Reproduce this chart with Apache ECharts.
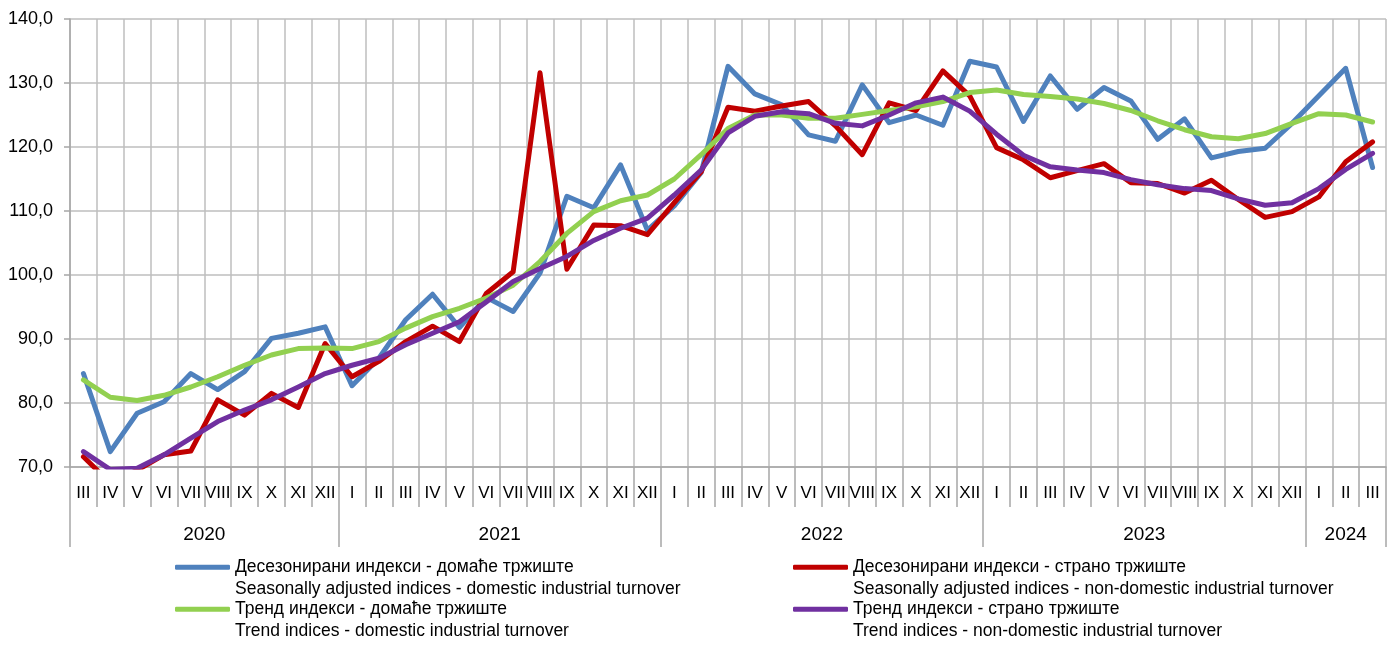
<!DOCTYPE html>
<html>
<head>
<meta charset="utf-8">
<script src="https://cdn.jsdelivr.net/npm/echarts@6/dist/echarts.min.js"></script>
<style>
html,body{margin:0;padding:0;background:#fff;}
#chart{width:1394px;height:646px;}
</style>
</head>
<body>
<div id="chart"></div>
<script>
// ---- data ----
var months = ['III','IV','V','VI','VII','VIII','IX','X','XI','XII',
  'I','II','III','IV','V','VI','VII','VIII','IX','X','XI','XII',
  'I','II','III','IV','V','VI','VII','VIII','IX','X','XI','XII',
  'I','II','III','IV','V','VI','VII','VIII','IX','X','XI','XII',
  'I','II','III'];
var years = ['2020','2021','2022','2023','2024'];
var yearMonthCounts = [10, 12, 12, 12, 3];

var seriesNames = [
  'Десезонирани индекси - домаће тржиште\nSeasonally adjusted indices - domestic industrial turnover',
  'Десезонирани индекси - страно тржиште\nSeasonally adjusted indices - non-domestic industrial turnover',
  'Тренд индекси - домаће тржиште\nTrend indices - domestic industrial turnover',
  'Тренд индекси - страно тржиште\nTrend indices - non-domestic industrial turnover'
];

var saDomestic = [84.6,72.4,78.4,80.2,84.6,82.1,84.9,90.1,90.9,91.9,
  82.7,87.0,93.0,97.0,91.8,96.5,94.3,100.3,112.3,110.5,117.2,107.0,
  110.8,116.0,132.6,128.3,126.6,121.9,120.9,129.7,123.8,125.0,123.4,133.4,
  132.5,124.0,131.1,125.9,129.3,127.2,121.2,124.4,118.3,119.3,119.8,123.7,
  128.0,132.3,116.8];
var saForeign = [71.6,67.5,69.5,71.9,72.5,80.5,78.1,81.5,79.3,89.3,
  84.1,86.5,89.6,92.0,89.6,97.1,100.5,131.6,100.9,107.8,107.7,106.3,
  111.3,116.1,126.2,125.6,126.4,127.1,123.3,118.8,126.9,125.7,131.9,128.0,
  119.9,118.0,115.2,116.3,117.4,114.4,114.3,112.8,114.8,111.8,109.0,109.9,
  112.2,117.7,120.8];
var trendDomestic = [83.6,80.9,80.4,81.2,82.5,84.1,85.9,87.5,88.5,88.6,
  88.5,89.6,91.7,93.5,94.8,96.4,98.4,102.1,106.5,109.9,111.6,112.5,
  115.0,118.8,122.9,125.0,125.0,124.5,124.5,125.1,125.7,126.3,127.1,128.5,
  128.9,128.2,127.9,127.5,126.8,125.7,124.1,122.7,121.6,121.3,122.1,123.7,
  125.2,125.0,123.9];
var trendForeign = [72.4,69.6,69.8,71.9,74.5,77.1,78.9,80.5,82.5,84.6,
  85.9,87.0,89.1,90.9,92.7,95.8,99.0,101.0,102.9,105.4,107.3,108.9,
  112.5,116.4,122.2,124.8,125.5,125.2,123.7,123.3,125.0,126.9,127.8,125.6,
  122.0,118.7,116.9,116.4,116.0,114.9,114.1,113.5,113.2,111.9,110.9,111.3,
  113.5,116.5,119.0];

var colors = ['#4F81BD', '#C00000', '#92D050', '#7030A0'];

// ---- build year axis (half-month resolution) ----
var nHalf = months.length * 2 + 1;
var yearAxisData = [];
for (var j = 0; j < nHalf; j++) yearAxisData.push('');
var boundaryIdx = {0: true};
var labelIdx = {};
var start = 0;
for (var y = 0; y < years.length; y++) {
  var c = start * 2 + yearMonthCounts[y];
  yearAxisData[c] = years[y];
  labelIdx[c] = true;
  start += yearMonthCounts[y];
  boundaryIdx[start * 2] = true;
}

var font = "'Liberation Sans', Arial, sans-serif";
var gridColor = '#BEBEBE';
var axisColor = '#A6A6A6';

var chart = echarts.init(document.getElementById('chart'), null, {renderer: 'canvas'});

function mkSeries(i, data) {
  return {
    name: seriesNames[i],
    type: 'line',
    data: data,
    symbol: 'none',
    smooth: false,
    clip: true,
    xAxisIndex: 0,
    lineStyle: {color: colors[i], width: 5, cap: 'round', join: 'round'},
    itemStyle: {color: colors[i]},
    z: 3 + i
  };
}

var legendText = {
  fontFamily: font,
  fontSize: 17.5,
  lineHeight: 21.5,
  color: '#000'
};
// blank first line so that the first real line is centred on the legend icon
function legendFmt(name) { return ' \n' + name; }

var option = {
  animation: false,
  backgroundColor: '#fff',
  grid: {left: 70, right: 8, top: 19, bottom: 179, containLabel: false},
  legend: [
    {
      data: [seriesNames[0], seriesNames[2]],
      orient: 'vertical',
      left: 175, top: 535,
      padding: 0,
      itemGap: -22.5,
      itemWidth: 55, itemHeight: 5,
      icon: 'roundRect',
      formatter: legendFmt,
      textStyle: legendText
    },
    {
      data: [seriesNames[1], seriesNames[3]],
      orient: 'vertical',
      left: 793, top: 535,
      padding: 0,
      itemGap: -22.5,
      itemWidth: 55, itemHeight: 5,
      icon: 'roundRect',
      formatter: legendFmt,
      textStyle: legendText
    }
  ],
  xAxis: [
    {
      type: 'category',
      data: months,
      boundaryGap: true,
      position: 'bottom',
      axisLine: {show: true, lineStyle: {color: axisColor, width: 1.5}},
      axisTick: {show: true, length: 40, interval: 0, lineStyle: {color: axisColor, width: 1.5}},
      axisLabel: {interval: 0, margin: 18, fontFamily: font, fontSize: 17, color: '#000'},
      splitLine: {show: true, interval: 0, lineStyle: {color: gridColor, width: 1.5}}
    },
    {
      type: 'category',
      data: yearAxisData,
      boundaryGap: false,
      position: 'bottom',
      offset: 40,
      axisLine: {show: false},
      axisTick: {show: true, length: 40, interval: function (idx) { return !!boundaryIdx[idx]; },
        lineStyle: {color: axisColor, width: 1.5}},
      axisLabel: {interval: function (idx) { return !!labelIdx[idx]; }, margin: 18,
        fontFamily: font, fontSize: 19, color: '#000'},
      splitLine: {show: false}
    }
  ],
  yAxis: {
    type: 'value',
    min: 70, max: 140, interval: 10,
    axisLine: {show: true, lineStyle: {color: axisColor, width: 1.5}},
    axisTick: {show: true, length: 6, lineStyle: {color: axisColor, width: 1.5}},
    axisLabel: {
      margin: 17, fontFamily: font, fontSize: 18, color: '#000',
      formatter: function (v) { return v.toFixed(1).replace('.', ','); }
    },
    splitLine: {show: true, lineStyle: {color: gridColor, width: 1.5}}
  },
  series: [
    mkSeries(0, saDomestic),
    mkSeries(1, saForeign),
    mkSeries(2, trendDomestic),
    mkSeries(3, trendForeign)
  ]
};
chart.setOption(option);
</script>
</body>
</html>
